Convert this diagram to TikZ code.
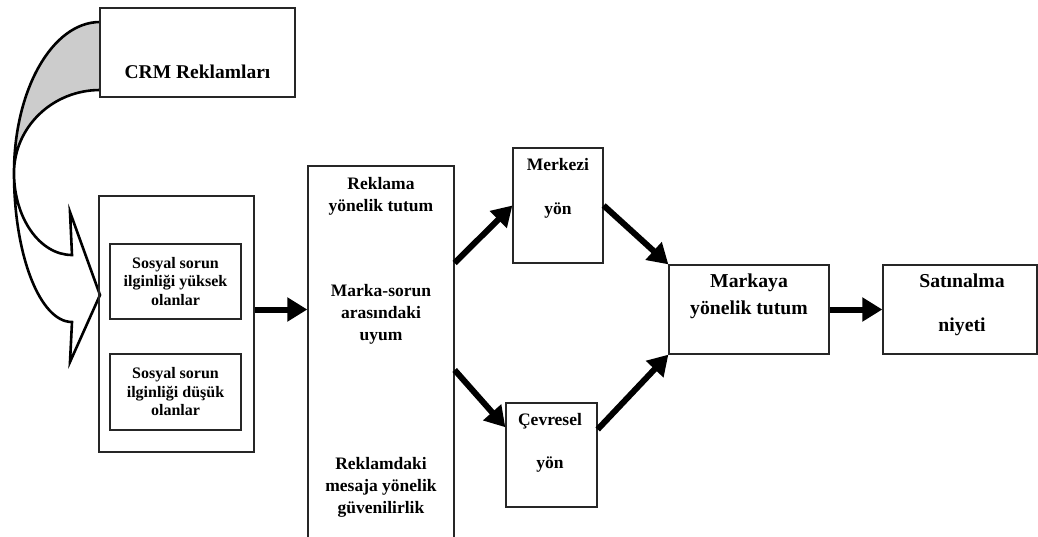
\documentclass[tikz,border=0pt]{standalone}
\usepackage{fontspec}
\setmainfont{Liberation Serif}
\usetikzlibrary{arrows.meta,calc}
\tikzset{
    %Define style for boxes
    kutu/.style={
           rectangle,
           draw=black!85, line width=1.3pt,
           inner sep=0pt,
           align=center,
           font=\bfseries\fontsize{16}{18.5}\selectfont},
    % Define style for texts
    yazi/.style={
           align=center,
           font=\bfseries\fontsize{17.5}{22}\selectfont},
    buyukyazi/.style={
           align=center,
           font=\bfseries\fontsize{19.7}{27}\selectfont},
    % Define arrow style
    pil/.style={
           -{Triangle[length=20pt,width=23pt]},
           line width=6pt}
}
\begin{document}
\begin{tikzpicture}[x=1pt, y=-1pt]
\useasboundingbox (0,0) rectangle (1038,536);

% curved arrow
\fill[gray!40] (100,22) .. controls (52.5,22) and (14,89.6) .. (14,173)
  .. controls (14,127.2) and (52.5,90) .. (100,90) -- cycle;
\draw[line width=2.6pt, line join=miter] (100,22) .. controls (52.5,22) and (14,89.6) .. (14,173)
  .. controls (14,255.2) and (40,322) .. (72,322)
  -- (70,362) -- (100,295) -- (70,212) -- (72,255)
  .. controls (40,255) and (14,218.3) .. (14,173)
  .. controls (14,127.2) and (52.5,90) .. (100,90);

\node[kutu, minimum width=195, minimum height=89] (crm) at (197.5,52.5) {};
\node[font=\bfseries\fontsize{19.5}{23}\selectfont] (crmyazi) at (197.5,72) {CRM Reklamları};

\node[kutu, minimum width=155, minimum height=256] (grup) at (176.5,324) {};
\node[kutu, minimum width=131, minimum height=75] (yuksek) at (175.5,281.5)
  {Sosyal sorun\\ilginliği yüksek\\olanlar};
\node[kutu, minimum width=131, minimum height=76] (dusuk) at (175.5,392)
  {Sosyal sorun\\ilginliği düşük\\olanlar};

\node[kutu, minimum width=146, minimum height=394] (orta) at (381,363) {};
\node[yazi] (tutum) at (381,196) {Reklama\\yönelik tutum};
\node[yazi] (uyum) at (381,314) {Marka-sorun\\arasındaki\\uyum};
\node[yazi] (guven) at (381,487.5) {Reklamdaki\\mesaja yönelik\\güvenilirlik};

\node[kutu, minimum width=90, minimum height=115] (merkezi) at (558,205.5) {};
\node[yazi] (merkeziyazi) at (558,188) {Merkezi\\[22pt]yön};
\node[kutu, minimum width=91, minimum height=104] (cevre) at (551.5,455) {};
\node[yazi] (cevreyazi) at (550,443) {Çevresel\\[21pt]yön};

\node[kutu, minimum width=160, minimum height=89] (markaya) at (749,309.5) {};
\node[buyukyazi] (markayayazi) at (749,296.5) {Markaya\\yönelik tutum};
\node[kutu, minimum width=154, minimum height=89] (satin) at (960,309.5) {};
\node[buyukyazi] (satinyazi) at (962,305) {Satınalma\\[17pt]niyeti};

\draw[pil] (grup.east |- markaya.west) -- (orta.west |- markaya.west);
\draw[pil] ($(orta.east)+(0,-100)$) -- (merkezi.west);
\draw[pil] ($(orta.east)+(0,7)$) -- (cevre.149);
\draw[pil] (merkezi.east) -- (markaya.north west);
\draw[pil] (cevre.29) -- (markaya.south west);
\draw[pil] (markaya.east) -- (satin.west);
\end{tikzpicture}
\end{document}
